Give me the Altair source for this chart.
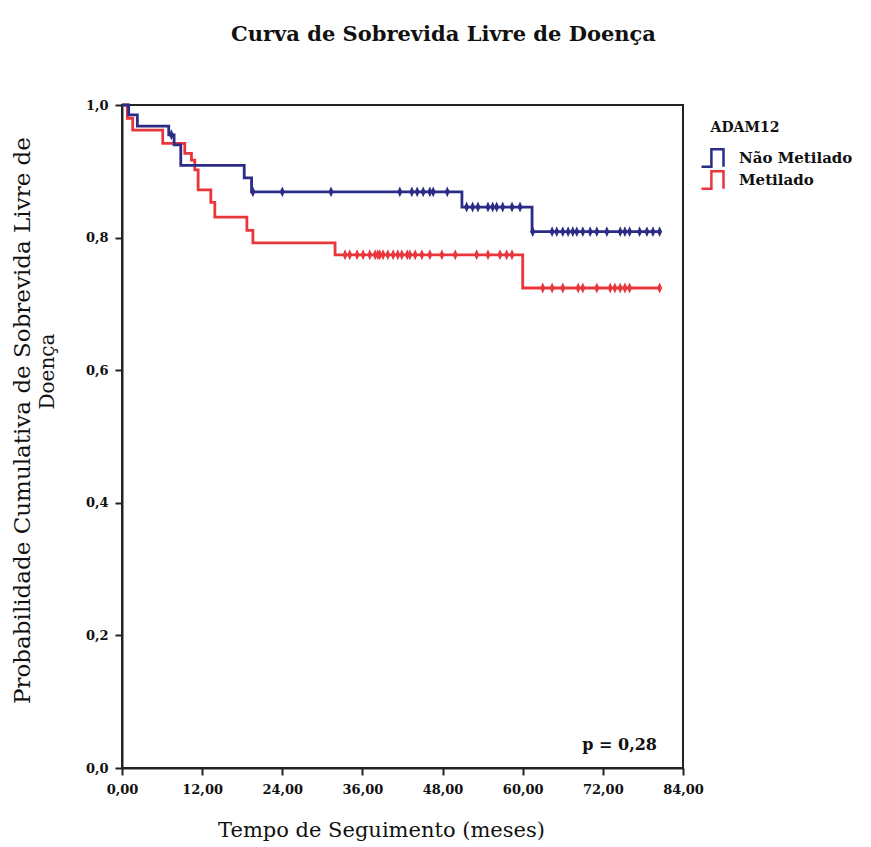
import altair as alt
import pandas as pd

# Kaplan-Meier estimates per group: event times (months) and survival after each event
blue_event_t = [0, 1.0, 2.3, 7.0, 7.8, 8.8, 18.3, 19.4, 50.9, 61.4]
blue_event_s = [1.0, 0.985, 0.968, 0.955, 0.94, 0.909, 0.89, 0.869, 0.846, 0.809]
blue_censor_t = [7.4, 19.6, 24.0, 31.3, 41.6, 43.4, 44.2, 45.1, 46.1, 46.6, 48.7,
                 51.6, 52.5, 53.3, 54.8, 55.5, 56.1, 57.0, 58.4, 59.6, 61.5,
                 64.4, 65.1, 66.0, 66.8, 67.5, 68.1, 69.0, 70.1, 71.1, 72.6,
                 74.6, 75.3, 76.0, 77.5, 78.6, 79.5, 80.5]

red_event_t = [0, 0.8, 1.6, 6.1, 9.4, 10.4, 10.9, 11.4, 13.3, 13.9, 18.7, 19.6, 31.9, 60.0]
red_event_s = [1.0, 0.98, 0.962, 0.942, 0.927, 0.917, 0.902, 0.872, 0.853, 0.831,
               0.811, 0.792, 0.774, 0.724]
red_censor_t = [33.4, 34.1, 35.2, 36.1, 37.1, 37.9, 38.3, 38.6, 39.1, 39.8, 40.6,
                41.3, 41.9, 42.7, 43.1, 43.9, 44.9, 46.1, 47.9, 49.9, 53.1, 54.8,
                56.6, 57.6, 58.4, 63.0, 64.4, 66.0, 68.3, 69.0, 71.1, 73.1, 73.8,
                74.6, 75.3, 76.0, 80.5]

groups = ["Não Metilado", "Metilado"]
colors = ["#2a2c86", "#e8363c"]
legend_title = "ADAM12"
p_label = "p = 0,28"

SERIF = "DejaVu Serif"


def level_at(t, ev_t, ev_s):
    s = ev_s[0]
    for et, es in zip(ev_t, ev_s):
        if et <= t:
            s = es
    return s


line_rows, censor_rows = [], []
for name, ev_t, ev_s, c_t in [
    (groups[0], blue_event_t, blue_event_s, blue_censor_t),
    (groups[1], red_event_t, red_event_s, red_censor_t),
]:
    for t, s in zip(ev_t, ev_s):
        line_rows.append({"grupo": name, "tempo": t, "surv": s})
    for t in c_t:
        s = level_at(t, ev_t, ev_s)
        line_rows.append({"grupo": name, "tempo": t, "surv": s})
        censor_rows.append({"grupo": name, "tempo": t, "surv": s})

lines_df = pd.DataFrame(line_rows).sort_values(["grupo", "tempo"])
censor_df = pd.DataFrame(censor_rows)

color = alt.Color(
    "grupo:N",
    scale=alt.Scale(domain=groups, range=colors),
    sort=groups,
    legend=alt.Legend(
        title=None,
        orient="none",
        legendX=578,
        legendY=43,
        symbolType="M -1 0.8 L -0.1 0.8 L -0.1 -0.8 L 1 -0.8 L 1 0.8",
        symbolSize=484,
        symbolStrokeWidth=2.5,
        symbolFillColor="transparent",
        clipHeight=20,
        labelFont=SERIF,
        labelFontSize=15,
        labelFontWeight="bold",
        labelColor="#111",
        labelOffset=14,
        rowPadding=2,
    ),
)

x = alt.X(
    "tempo:Q",
    scale=alt.Scale(domain=[0, 84], nice=False),
    axis=alt.Axis(
        values=[0, 12, 24, 36, 48, 60, 72, 84],
        labelExpr="replace(format(datum.value, '.2f'), '.', ',')",
        title="Tempo de Seguimento (meses)",
        titleX=259,
        titleY=62,
        titleAlign="center",
        titleBaseline="middle",
    ),
)
y = alt.Y(
    "surv:Q",
    scale=alt.Scale(domain=[0, 1], nice=False),
    axis=alt.Axis(
        values=[0, 0.2, 0.4, 0.6, 0.8, 1.0],
        labelExpr="replace(format(datum.value, '.1f'), '.', ',')",
        title="Probabilidade Cumulativa de Sobrevida Livre de",
        titleX=-100,
        titleY=315,
        titleAlign="center",
        titleBaseline="middle",
        titleAngle=270,
    ),
)

km = alt.Chart(lines_df).mark_line(interpolate="step-after", strokeWidth=2.8).encode(
    x=x, y=y, color=color, detail="grupo:N"
)

censors = alt.Chart(censor_df).mark_point(
    shape="M 0 -1 L 0.45 0 L 0 1 L -0.45 0 Z", filled=True, size=120, opacity=1
).encode(
    x="tempo:Q",
    y="surv:Q",
    color=alt.Color("grupo:N", scale=alt.Scale(domain=groups, range=colors), legend=None),
)

p_text = alt.Chart(pd.DataFrame({"tempo": [84], "surv": [0.035], "txt": [p_label]})).mark_text(
    align="right", baseline="middle", dx=-26, font=SERIF, fontSize=16, fontWeight="bold", color="#111"
).encode(x="tempo:Q", y="surv:Q", text="txt:N")

# second line of the y-axis title
second_line = alt.Chart(pd.DataFrame({"txt": ["Doença"]})).mark_text(
    angle=270, align="center", baseline="middle", font=SERIF, fontSize=20, color="#111"
).encode(x=alt.value(-74), y=alt.datum(0.598), text="txt:N")

# heading above the legend entries
legend_head = alt.Chart(pd.DataFrame({"txt": [legend_title]})).mark_text(
    align="center", baseline="middle", font=SERIF, fontSize=14, fontWeight="bold", color="#111"
).encode(x=alt.value(623), y=alt.value(23), text="txt:N")

chart = (
    alt.layer(km, censors, p_text, second_line, legend_head)
    .resolve_scale(color="independent")
    .properties(
        width=561,
        height=663,
        background="white",
        autosize=alt.AutoSizeParams(type="none"),
        padding={"left": 122, "top": 105, "right": 188, "bottom": 79},
        title=alt.TitleParams(
            "Curva de Sobrevida Livre de Doença",
            font=SERIF,
            fontSize=21,
            fontWeight="bold",
            color="#111",
            anchor="middle",
            dx=41,
            offset=54,
        ),
    )
    .configure_view(stroke="#222", strokeWidth=2)
    .configure_axis(
        grid=False,
        domainColor="#222",
        domainWidth=2,
        tickColor="#222",
        tickWidth=2,
        tickSize=7,
        labelFont=SERIF,
        labelFontSize=13,
        labelFontWeight="bold",
        labelColor="#111",
        labelFlush=False,
        labelOverlap=False,
        titleFont=SERIF,
        titleFontWeight="normal",
        titleColor="#111",
    )
    .configure_axisX(labelPadding=8, titleFontSize=21)
    .configure_axisY(labelPadding=7, titleFontSize=23)
)

chart.save("out.html", embed_options={"renderer": "svg", "actions": False})
